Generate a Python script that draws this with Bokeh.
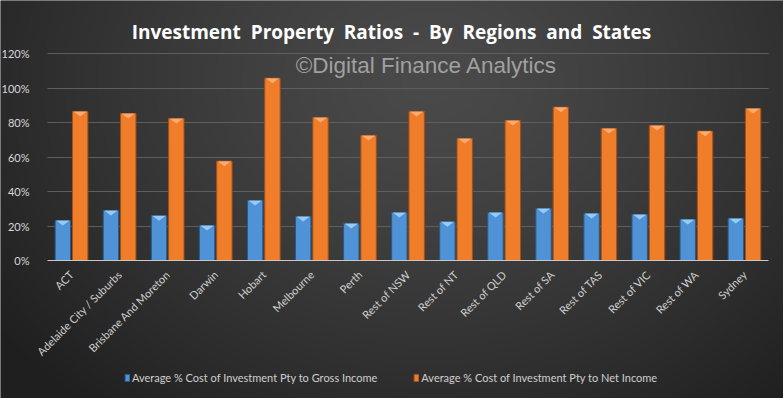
import math
import numpy as np
from bokeh.plotting import figure
from bokeh.models import (Range1d, FixedTicker, NumeralTickFormatter,
                          Legend, LegendItem, Label, ColumnDataSource)
from bokeh.transform import dodge
from bokeh.embed import file_html
from bokeh.resources import INLINE

regions = ["ACT", "Adelaide City / Suburbs", "Brisbane And Moreton", "Darwin", "Hobart",
           "Melbourne", "Perth", "Rest of NSW", "Rest of NT", "Rest of QLD", "Rest of SA",
           "Rest of TAS", "Rest of VIC", "Rest of WA", "Sydney"]
gross = [0.232, 0.290, 0.260, 0.203, 0.348, 0.255, 0.214, 0.278, 0.224, 0.278, 0.301,
         0.272, 0.267, 0.238, 0.243]
net = [0.864, 0.852, 0.823, 0.576, 1.057, 0.829, 0.725, 0.864, 0.707, 0.812, 0.889,
       0.765, 0.783, 0.750, 0.881]
y_ticks = [0, 0.2, 0.4, 0.6, 0.8, 1.0, 1.2]
series_names = ["Average % Cost of Investment Pty to Gross Income",
                "Average % Cost of Investment Pty to Net Income"]
title_text = " \u00a0".join(["Investment", "Property", "Ratios", "-", "By", "Regions", "and", "States"])

W, H = 783, 398
PX_X = 48.07    # px per category
PX_Y = 172.5    # px per 100%
idx = list(range(len(regions)))
src = ColumnDataSource(dict(idx=idx, region=regions, gross=gross, net=net))

x0, x1 = -0.5 - 47 / PX_X, 14.5 + 15 / PX_X
y0, y1 = -138 / PX_Y, 1.2 + 53 / PX_Y

p = figure(width=W, height=H, output_backend="svg", toolbar_location=None,
           x_range=Range1d(x0, x1), y_range=Range1d(y0, y1),
           min_border_left=0, min_border_right=0, min_border_top=0, min_border_bottom=0)
p.background_fill_color = "#333333"
p.border_fill_color = "#333333"
p.outline_line_color = None

# background radial shading (style only)
yy, xx = np.mgrid[0:H, 0:W]
d = np.sqrt(((xx - 430) / 540.0) ** 2 + ((yy - 80) / 430.0) ** 2)
t = np.clip(d, 0, 1) ** 1.3
g = (0x4a * (1 - t) + 0x1f * t).astype(np.uint32)
rgba = (0xFF << 24) | (g << 16) | (g << 8) | g
img = np.flipud(rgba).astype(np.uint32)
p.image_rgba(image=[img], x=x0, y=y0, dw=x1 - x0, dh=y1 - y0, level="image")

BW = 0.32
r1 = p.vbar(x=dodge("idx", -0.18), top="gross", width=BW, source=src,
            fill_color="#4f93d6", line_color="#2a5a88", line_width=1)
r2 = p.vbar(x=dodge("idx", 0.18), top="net", width=BW, source=src,
            fill_color="#f07d2a", line_color="#a4501a", line_width=1)

# bevel highlight at each bar top
tri_h = 5 / PX_Y
def tops(offset, vals):
    xs = [[i + offset - BW / 2 + 0.02, i + offset + BW / 2 - 0.02, i + offset] for i in idx]
    ys = [[v, v, v - tri_h] for v in vals]
    return xs, ys
bx, by = tops(-0.18, gross)
ox, oy = tops(0.18, net)
p.patches(bx, by, fill_color="#9fd0f8", line_color=None, fill_alpha=0.9)
p.patches(ox, oy, fill_color="#fbb07a", line_color=None, fill_alpha=0.9)

p.yaxis.fixed_location = -0.5
p.yaxis.ticker = FixedTicker(ticks=y_ticks)
p.yaxis.formatter = NumeralTickFormatter(format="0%")
p.yaxis.axis_line_color = None
p.yaxis.major_tick_line_color = None
p.yaxis.minor_tick_line_color = None
p.yaxis.major_label_text_color = "#d8d8d8"
p.yaxis.major_label_text_font = "Lato"
p.yaxis.major_label_text_font_size = "11px"
p.yaxis.major_label_standoff = 12

p.xaxis.fixed_location = 0
p.xaxis.bounds = (-0.5, 14.5)
p.xaxis.ticker = FixedTicker(ticks=idx)
p.xaxis.major_label_overrides = {i: name for i, name in zip(idx, regions)}
p.xaxis.axis_line_color = "#c8c8c8"
p.xaxis.major_tick_line_color = None
p.xaxis.minor_tick_line_color = None
p.xaxis.major_label_orientation = math.pi / 4
p.xaxis.major_label_text_color = "#cfcfcf"
p.xaxis.major_label_text_font = "Lato"
p.xaxis.major_label_text_font_size = "11px"
p.xaxis.major_label_standoff = 6

p.xgrid.grid_line_color = None
p.ygrid.ticker = FixedTicker(ticks=y_ticks[1:])
p.ygrid.cross_bounds = (-0.5, 14.5)
p.ygrid.grid_line_color = "#5e5e5e"

title = Label(x=(391 - 47) / PX_X - 0.5, y=1.2 + 22 / PX_Y, text=title_text, text_align="center",
              text_baseline="alphabetic", text_font="Open Sans", text_font_style="bold",
              text_font_size="19px", text_color="#ffffff")
p.add_layout(title)

wm = Label(x=(426 - 47) / PX_X - 0.5, y=1.13, text="\u00a9Digital Finance Analytics",
           text_align="center", text_baseline="middle", text_font="Liberation Sans",
           text_font_size="22.5px", text_color="#a0a0a0")
p.add_layout(wm)

legend = Legend(items=[LegendItem(label=series_names[0], renderers=[r1]),
                       LegendItem(label=series_names[1], renderers=[r2])],
                orientation="horizontal", location=(124, 14), spacing=36,
                glyph_width=6, glyph_height=9, label_standoff=2,
                label_text_font="Lato", label_text_font_size="11px",
                label_text_color="#cfcfcf", background_fill_alpha=0,
                border_line_color=None, padding=0, margin=0)
p.add_layout(legend, "center")

open("out.html", "w").write(file_html(p, INLINE))
